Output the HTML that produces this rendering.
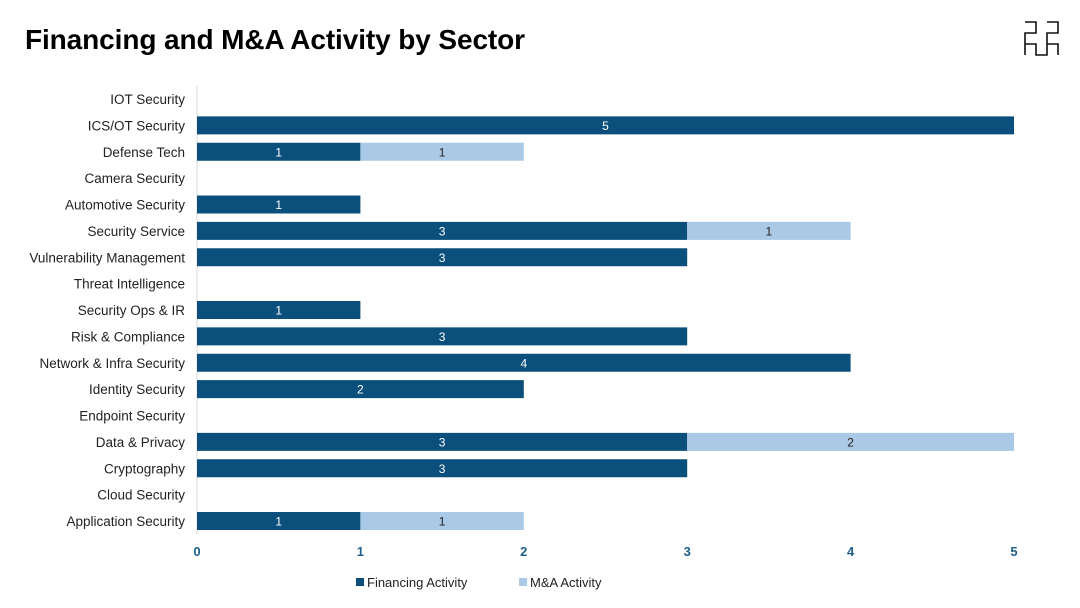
<!DOCTYPE html>
<html><head><meta charset="utf-8"><style>
html,body{margin:0;padding:0;background:#fff;}
body{width:1080px;height:608px;overflow:hidden;position:relative;font-family:"Liberation Sans",sans-serif;}
#title{position:absolute;left:25px;top:24px;font-size:28px;font-weight:bold;color:#000;letter-spacing:-0.1px;}
svg{position:absolute;left:0;top:0;}
</style></head><body>
<div id="title">Financing and M&amp;A Activity by Sector</div>
<svg width="1080" height="608" id="chart">
<g stroke="#111" stroke-width="1.6" fill="none">
<path d="M1025 22H1036V33H1025V44H1036V55H1047V44H1058V55M1047 22H1058V33H1047V44M1025 44V55"/>
</g>
</svg>
<script>
const categories=["IOT Security","ICS/OT Security","Defense Tech","Camera Security","Automotive Security","Security Service","Vulnerability Management","Threat Intelligence","Security Ops & IR","Risk & Compliance","Network & Infra Security","Identity Security","Endpoint Security","Data & Privacy","Cryptography","Cloud Security","Application Security"];
const financing=[0,5,1,0,1,3,3,0,1,3,4,2,0,3,3,0,1];
const mna=[0,0,1,0,0,1,0,0,0,0,0,0,0,2,0,0,1];
const ticks=[0,1,2,3,4,5];
const svg=document.getElementById('chart');
const NS='http://www.w3.org/2000/svg';
const x0=197,x1=1014,xmax=5;
const xs=v=>x0+(x1-x0)*v/xmax;
const y0=99,step=(521-99)/(categories.length-1);
const ys=i=>y0+i*step;
const bh=18;
function mk(t,a){const e=document.createElementNS(NS,t);for(const k in a)e.setAttribute(k,a[k]);svg.appendChild(e);return e;}
const ax=mk('line',{x1:x0,x2:x0,y1:ys(0)-13,y2:ys(categories.length-1)+13,stroke:'#d9d9d9','stroke-width':1});


categories.forEach((c,i)=>{
  const y=ys(i);
  const t=mk('text',{x:185,y:y+5,'text-anchor':'end','font-size':13.5,fill:'#222','font-family':'Liberation Sans, sans-serif'});
  t.textContent=c;
  
  
  if(financing[i]>0){
    const r=mk('rect',{x:xs(0),y:y-bh/2,width:xs(financing[i])-xs(0),height:bh,fill:'#0b4f7c'});
    
    
    const l=mk('text',{x:(xs(0)+xs(financing[i]))/2,y:y+4.5,'text-anchor':'middle','font-size':12,fill:'#fff'});
    l.textContent=financing[i];
    
    
  }
  if(mna[i]>0){
    const s=financing[i],e=financing[i]+mna[i];
    const r=mk('rect',{x:xs(s),y:y-bh/2,width:xs(e)-xs(s),height:bh,fill:'#a9c9e6'});
    
    
    const l=mk('text',{x:(xs(s)+xs(e))/2,y:y+4.5,'text-anchor':'middle','font-size':12,fill:'#222'});
    l.textContent=mna[i];
    
    
  }
});
ticks.forEach(v=>{
  const t=mk('text',{x:xs(v),y:556,'text-anchor':'middle','font-size':13,'font-weight':'bold',fill:'#1f5f8b'});
  t.textContent=v;
  
  
});
const legend=[["Financing Activity","#0b4f7c",356],["M&A Activity","#a9c9e6",519]];
legend.forEach(([n,c,x])=>{
  const r=mk('rect',{x:x,y:578,width:8,height:8,fill:c});
  
  
  const t=mk('text',{x:x+11,y:587,'font-size':13,fill:'#222'});
  t.textContent=n;
  
  
});
</script>
</body></html>
